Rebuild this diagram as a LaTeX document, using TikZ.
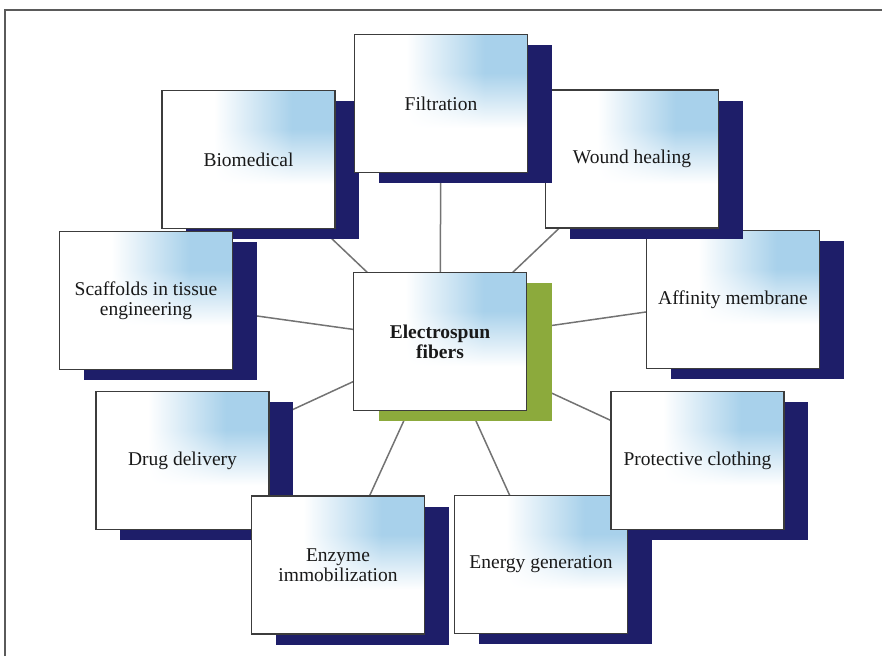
\documentclass[tikz,border=0pt]{standalone}
\usepackage{fontspec}
\setmainfont{Liberation Serif}
\usetikzlibrary{shadows,backgrounds}
\definecolor{navyc}{RGB}{30,30,105}
\definecolor{greenc}{RGB}{140,170,60}
\definecolor{edgec}{RGB}{60,60,60}
\definecolor{linkc}{RGB}{115,115,115}
\definecolor{framec}{RGB}{90,90,90}
% white-to-light-blue, strongest at the upper right
\pgfdeclarefunctionalshading{boxshade}{\pgfpoint{0bp}{0bp}}{\pgfpoint{100bp}{100bp}}{}{
 25 sub 50 div 0.32 sub 0.4 div dup 0 lt {pop 0} if dup 1 gt {pop 1} if
 exch 25 sub 50 div 0.3 sub 0.45 div dup 0 lt {pop 0} if dup 1 gt {pop 1} if
 mul
 dup 0.34 mul 1 exch sub
 exch dup 0.18 mul 1 exch sub
 exch 0.08 mul 1 exch sub
}
\begin{document}
\begin{tikzpicture}[x=1pt,y=-1pt,
  boxbase/.style={rectangle, shading=boxshade, draw=edgec, line width=1.6pt,
    minimum width=173pt, minimum height=138pt, inner sep=2pt,
    align=center, font=\fontsize{19.5}{20}\selectfont, text=black!90},
  sat/.style={boxbase,
    drop shadow={shadow xshift=24pt, shadow yshift=-10.5pt, fill=navyc, opacity=1}},
  hub/.style={boxbase, font=\fontsize{19.5}{20}\selectfont\bfseries,
    drop shadow={shadow xshift=25pt, shadow yshift=-10.5pt, fill=greenc, opacity=1}},
  link/.style={draw=linkc, line width=1.5pt},
  frame/.style={draw=framec, line width=1.2pt}]
\useasboundingbox (0,0) rectangle (882,656);
\draw[frame] (5,656) -- (5,10) -- (882,10);

\node[sat] (bio) at (248.5,159.5) {Biomedical};
\node[sat] (sca) at (146,300.5) {Scaffolds in tissue\\engineering};
\node[sat] (aff) at (733,299.5) {Affinity membrane};
\node[sat] (wou) at (632,159) {Wound healing};
\node[sat] (fil) at (441,103.5) {Filtration};
\node[sat] (dru) at (182.5,460.5) {Drug delivery};
\node[sat] (enz) at (338,565) {Enzyme\\immobilization};
\node[sat] (ene) at (541,564.5) {Energy generation};
\node[sat] (pro) at (697.5,460.5) {Protective clothing};
\node[hub] (hubn) at (440,341.5) {Electrospun\\fibers};

\begin{scope}[on background layer]
\foreach \t in {bio,sca,aff,wou,fil,dru,enz,ene,pro}
  \draw[link] (hubn.center) -- (\t.center);
\end{scope}
\end{tikzpicture}
\end{document}
